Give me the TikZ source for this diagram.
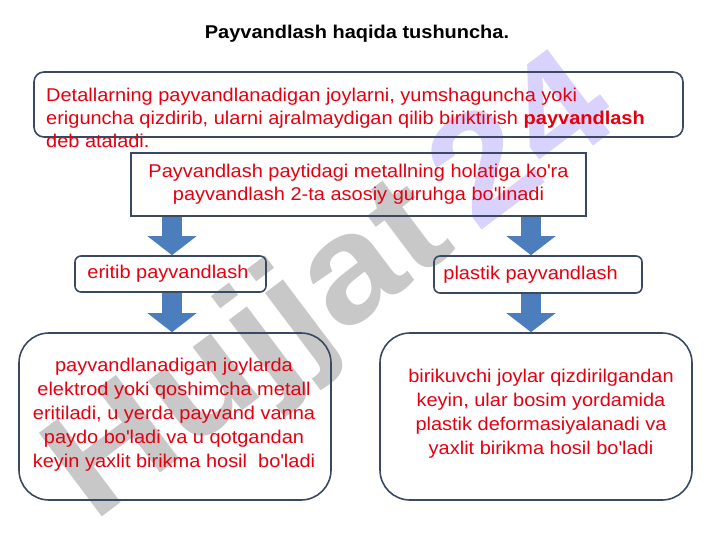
\documentclass[tikz,border=0pt]{standalone}
\usepackage{fontspec}
\setmainfont{Liberation Sans}[FakeStretch=1.08]
\usetikzlibrary{arrows.meta,calc}
\definecolor{txtred}{RGB}{228,0,16}
\definecolor{frame}{RGB}{58,72,98}
\definecolor{arrblue}{RGB}{76,126,190}
\definecolor{wmgray}{RGB}{170,170,170}
\definecolor{wmviolet}{RGB}{196,186,250}
\newcommand{\ap}{\textquotesingle}
\tikzset{
  txt/.style={text=txtred,font=\fontsize{18.5}{23}\selectfont,inner sep=0pt},
  desc/.style={txt,font=\fontsize{18.5}{24}\selectfont,align=center},
  rbox/.style={draw=frame,line width=1.6pt,rounded corners=#1},
  rbox/.default=6pt,
  blockarr/.style={arrblue,line width=20pt,-{Triangle[width=48pt,length=19pt]}}
}
\begin{document}
\begin{tikzpicture}[x=1pt,y=-1pt]
 \useasboundingbox (0,0) rectangle (720,540);
 % watermark
 \node[rotate=37,font=\bfseries\fontsize{152}{152}\selectfont,opacity=0.65,inner sep=0pt] (wm) at (335,292)
   {\textcolor{wmgray}{Hujjat}\,\textcolor{wmviolet}{24}};
 % title
 \node[font=\bfseries\fontsize{18.5}{22}\selectfont,anchor=base] (title) at (357,39) {Payvandlash haqida tushuncha.};
 % definition
 \node[rbox=10pt,minimum width=649pt,minimum height=65pt] (defbox) at (358.5,104.5) {};
 \node[txt,anchor=north west,align=left] (deftxt) at (46,88)
   {Detallarning payvandlanadigan joylarni, yumshaguncha yoki\\
    eriguncha qizdirib, ularni ajralmaydigan qilib biriktirish \textbf{payvandlash}\\
    deb ataladi.};
 % groups
 \node[txt,draw=frame,line width=1.6pt,minimum width=455pt,minimum height=63pt,align=center] (group) at (358.5,184.5)
   {Payvandlash paytidagi metallning holatiga ko\ap ra\\payvandlash 2-ta asosiy guruhga bo\ap linadi};
 \node[txt,rbox,minimum width=191pt,minimum height=36pt] (eritib) at (170.5,274) {};
 \node[txt,anchor=west] (eritibt) at (eritib.west) [xshift=13pt] {eritib payvandlash};
 \node[txt,rbox,minimum width=208pt,minimum height=37pt] (plastik) at (538,274.5) {};
 \node[txt,anchor=west] (plastikt) at (plastik.west) [xshift=10pt] {plastik payvandlash};
 % descriptions
 \node[txt,rbox=30pt,minimum width=312pt,minimum height=167pt] (eritibbox) at (175,416.5) {};
 \node[desc] (eritibd) at (174,415)
   {payvandlanadigan joylarda\\elektrod yoki qoshimcha metall\\eritiladi, u yerda payvand vanna\\paydo bo\ap ladi va u qotgandan\\keyin yaxlit birikma hosil\ \ bo\ap ladi};
 \node[txt,rbox=30pt,minimum width=312pt,minimum height=167pt] (plastikbox) at (536,416.5) {};
 \node[desc] (plastikd) at (541,414)
   {birikuvchi joylar qizdirilgandan\\keyin, ular bosim yordamida\\plastik deformasiyalanadi va\\yaxlit birikma hosil bo\ap ladi};
 % arrows
 \draw[blockarr] ([xshift=1.5pt]group.south -| eritib) -- ([xshift=1.5pt]eritib.north);
 \draw[blockarr] ([xshift=-7pt]group.south -| plastik) -- ([xshift=-7pt]plastik.north);
 \draw[blockarr] ([xshift=1.5pt]eritib.south) -- ([xshift=1.5pt]eritibbox.north -| eritib);
 \draw[blockarr] ([xshift=-7pt]plastik.south) -- ([xshift=-7pt]plastikbox.north -| plastik);
\end{tikzpicture}
\end{document}
